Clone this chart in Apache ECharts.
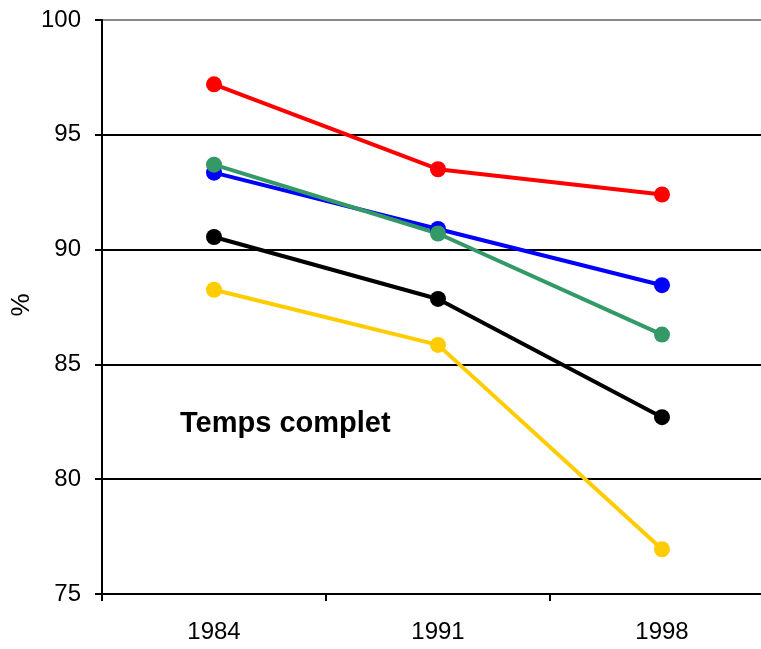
<!DOCTYPE html>
<html>
<head>
<meta charset="utf-8">
<script src="https://cdn.jsdelivr.net/npm/echarts@6/dist/echarts.min.js"></script>
<style>html,body{margin:0;padding:0;background:#fff;}#c{width:761px;height:649px;}</style>
</head>
<body>
<div id="c"></div>
<script>
const categories = ['1984', '1991', '1998'];
const redValues = [97.2, 93.5, 92.4];
const blueValues = [93.35, 90.9, 88.45];
const greenValues = [93.7, 90.7, 86.3];
const blackValues = [90.55, 87.85, 82.7];
const yellowValues = [88.25, 85.85, 76.95];
const yTicks = [75, 80, 85, 90, 95, 100];
const yAxisTitle = '%';
const annotation = 'Temps complet';

const seriesDefs = [
  { data: redValues, color: '#FF0000' },
  { data: blueValues, color: '#0000FF' },
  { data: greenValues, color: '#339966' },
  { data: blackValues, color: '#000000' },
  { data: yellowValues, color: '#FFCC00' }
];

const labelFont = '"Liberation Sans", Arial';
const chart = echarts.init(document.getElementById('c'), null, { renderer: 'canvas' });
chart.setOption({
  animation: false,
  backgroundColor: '#fff',
  grid: { left: 102, top: 20, bottom: 55, right: -13, containLabel: false, outerBoundsMode: 'none' },
  xAxis: {
    type: 'category',
    data: categories,
    boundaryGap: true,
    axisLine: { lineStyle: { color: '#000', width: 2 } },
    axisTick: { show: true, length: 7, lineStyle: { color: '#000', width: 2 } },
    axisLabel: { color: '#000', fontSize: 24, fontFamily: labelFont, margin: 26 },
    splitLine: { show: false }
  },
  yAxis: {
    type: 'value',
    min: yTicks[0],
    max: yTicks[yTicks.length - 1],
    interval: 5,
    axisLine: { show: true, lineStyle: { color: '#000', width: 2 } },
    axisTick: { show: true, length: 7, lineStyle: { color: '#000', width: 2 } },
    axisLabel: { color: '#000', fontSize: 24, fontFamily: labelFont, margin: 21 },
    splitLine: { show: true, lineStyle: { color: ['#000', '#000', '#000', '#000', '#000', '#888'], width: 2 } }
  },
  graphic: [{
    type: 'text',
    x: 22,
    y: 305,
    rotation: Math.PI / 2,
    style: { text: yAxisTitle, fill: '#000', font: '26px "Liberation Sans", Arial', align: 'center', verticalAlign: 'middle' }
  }, {
    type: 'text',
    left: 180,
    top: 409,
    style: { text: annotation, fill: '#000', font: 'bold 29px "Liberation Sans", Arial' }
  }],
  series: seriesDefs.map(s => ({
    type: 'line',
    data: s.data,
    symbol: 'circle',
    symbolSize: 16,
    lineStyle: { color: s.color, width: 4 },
    itemStyle: { color: s.color },
    z: 3
  }))
});
</script>
</body>
</html>
